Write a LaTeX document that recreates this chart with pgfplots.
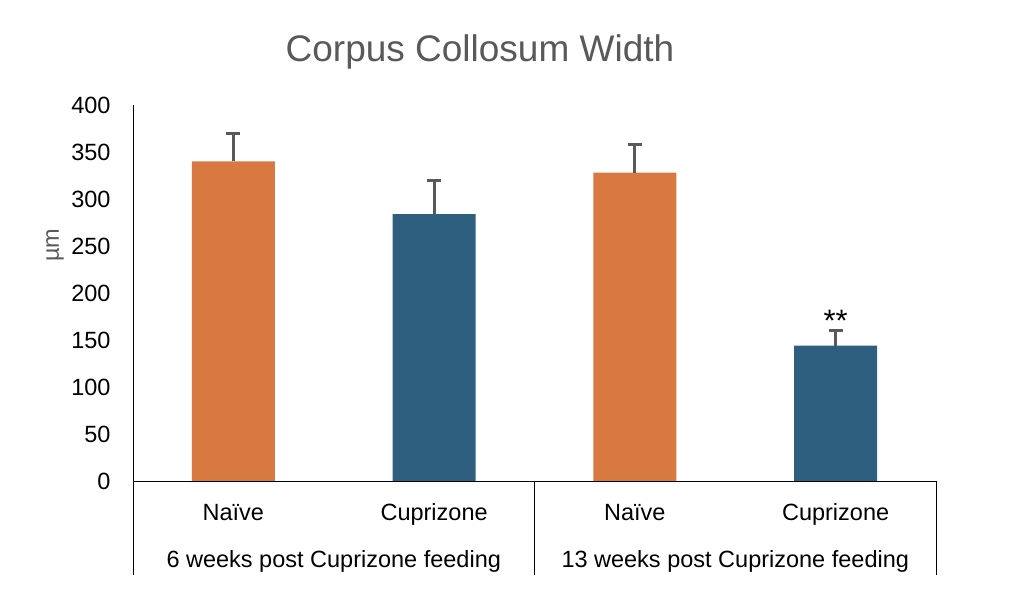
\documentclass[border=0pt]{standalone}
\usepackage{pgfplots}
\pgfplotsset{compat=1.18}
\usepackage{fontspec}
\setmainfont{Liberation Sans}
\definecolor{naive}{RGB}{216,121,66}
\definecolor{cupri}{RGB}{46,95,126}
\definecolor{titlegray}{RGB}{89,89,89}
\definecolor{errgray}{RGB}{89,89,89}
\newcommand\lblfont{\fontsize{23.5}{26}\selectfont}
\begin{document}
\begin{tikzpicture}[x=1pt,y=1pt]
\useasboundingbox (0,0) rectangle (1010,616);
\begin{axis}[
  at={(133pt,135pt)}, anchor=south west,
  scale only axis, width=803pt, height=376pt,
  xmin=-0.5, xmax=3.5, ymin=0, ymax=400,
  axis lines*=left,
  axis line style={black, line width=0.8pt, -},
  ytick={0,50,...,400},
  xtick={0,1,2,3},
  xticklabels={Na\"ive,Cuprizone,Na\"ive,Cuprizone},
  major tick length=0pt,
  tick label style={font=\lblfont, black},
  yticklabel style={xshift=-19pt},
  xticklabel style={text height=17pt, text depth=5pt, anchor=center, yshift=-34pt},
  /pgf/number format/assume math mode=true,
  clip=false,
  bar width=83pt,
]
\addplot[ybar, bar shift=0pt, fill=naive, draw=none,
  error bars/.cd, y dir=plus, y explicit,
  error bar style={errgray, line width=3pt},
  error mark options={errgray, rotate=90, mark size=7pt, line width=3pt}]
  coordinates {(0,340) +- (0,30) (2,328) +- (0,30)};
\addplot[ybar, bar shift=0pt, fill=cupri, draw=none,
  error bars/.cd, y dir=plus, y explicit,
  error bar style={errgray, line width=3pt},
  error mark options={errgray, rotate=90, mark size=7pt, line width=3pt}]
  coordinates {(1,284) +- (0,36) (3,144) +- (0,16)};
% axis baseline redrawn over the bar bottoms
\draw[black, line width=0.8pt] (axis cs:-0.5,0) -- (axis cs:3.5,0);
% group separators below the axis
\draw[black, line width=0.8pt] (axis cs:-0.5,0) -- ([yshift=-94pt]axis cs:-0.5,0);
\draw[black, line width=0.8pt] (axis cs:1.5,0) -- ([yshift=-94pt]axis cs:1.5,0);
\draw[black, line width=0.8pt] (axis cs:3.5,0) -- ([yshift=-94pt]axis cs:3.5,0);
\node[font=\lblfont, anchor=center] at ([yshift=-80pt]axis cs:0.5,0) {6 weeks post Cuprizone feeding};
\node[font=\lblfont, anchor=center] at ([yshift=-80pt]axis cs:2.5,0) {13 weeks post Cuprizone feeding};
\node[font=\fontsize{31}{34}\selectfont, anchor=center] at ([yshift=10pt]axis cs:3,160) {**};
\end{axis}
\node[font=\lblfont, text=titlegray, rotate=90, anchor=center] at (55,371) {µm};
\node[font=\fontsize{37}{40}\selectfont, text=titlegray, anchor=center] at (480,564) {Corpus Collosum Width};
\end{tikzpicture}
\end{document}
